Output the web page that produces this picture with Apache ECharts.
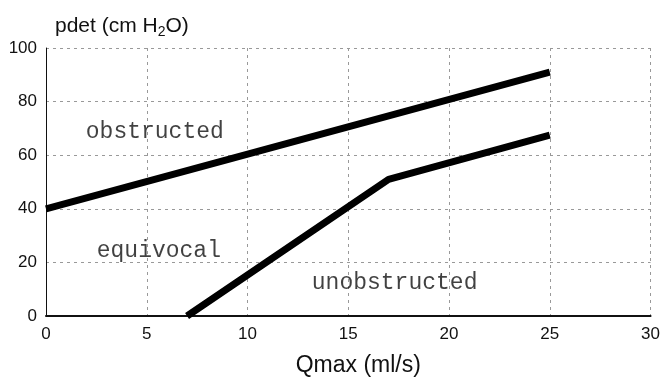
<!DOCTYPE html>
<html><head><meta charset="utf-8">
<script src="https://cdn.jsdelivr.net/npm/echarts@6/dist/echarts.min.js"></script>
<style>html,body{margin:0;padding:0;background:#fff}#c{width:663px;height:382px}</style>
</head><body><div id="c"></div>
<script>
const xTicks = [0, 5, 10, 15, 20, 25, 30];
const yTicks = [0, 20, 40, 60, 80, 100];
const obstructedLine = [[0, 40], [25, 91]];
const unobstructedLine = [[7, 0], [17, 51], [25, 67.5]];
const regionLabels = [
  { name: 'obstructed', value: [5.4, 68.8] },
  { name: 'equivocal', value: [5.6, 24.2] },
  { name: 'unobstructed', value: [17.3, 12.4] }
];
const chart = echarts.init(document.getElementById('c'));
chart.setOption({
  backgroundColor: '#fff',
  animation: false,
  grid: { left: 46, right: 11, top: 48, bottom: 66 },
  title: {
    text: '{a|pdet (cm H}{s|2}{a|O)}',
    left: 50, top: 9,
    textStyle: { fontWeight: 'normal', rich: {
      a: { fontFamily: 'Liberation Sans', fontSize: 21, fontWeight: 'normal', color: '#111' },
      s: { fontFamily: 'Liberation Sans', fontSize: 14, fontWeight: 'normal', color: '#111', padding: [11, 0, 0, 0] }
    } }
  },
  xAxis: {
    type: 'value', min: 0, max: 30, interval: 5,
    name: 'Qmax (ml/s)', nameLocation: 'middle', nameGap: 38,
    nameTextStyle: { fontFamily: 'Liberation Sans', fontSize: 23, color: '#111', padding: [0, 0, 0, 20] },
    axisLine: { lineStyle: { color: '#111', width: 2 } },
    axisTick: { show: false },
    axisLabel: { fontFamily: 'Liberation Sans', fontSize: 17, color: '#111', margin: 10 },
    splitLine: { show: true, lineStyle: { type: [3, 4], color: '#999' } }
  },
  yAxis: {
    type: 'value', min: 0, max: 100, interval: 20,
    axisLine: { show: true, lineStyle: { color: '#111', width: 1 } },
    axisTick: { show: false },
    axisLabel: { fontFamily: 'Liberation Sans', fontSize: 17, color: '#111', margin: 9 },
    splitLine: { show: true, lineStyle: { type: [3, 4], color: '#999' } }
  },
  series: [
    { type: 'line', data: obstructedLine, symbol: 'none', lineStyle: { color: '#000', width: 7 }, z: 5 },
    { type: 'line', data: unobstructedLine, symbol: 'none', lineStyle: { color: '#000', width: 7, join: 'round' }, z: 5 },
    { type: 'scatter', data: regionLabels, symbolSize: 0, silent: true,
      label: { show: true, position: 'inside', formatter: p => p.name,
        fontFamily: 'Liberation Mono', fontSize: 23, color: '#111' } }
  ]
});
</script></body></html>
